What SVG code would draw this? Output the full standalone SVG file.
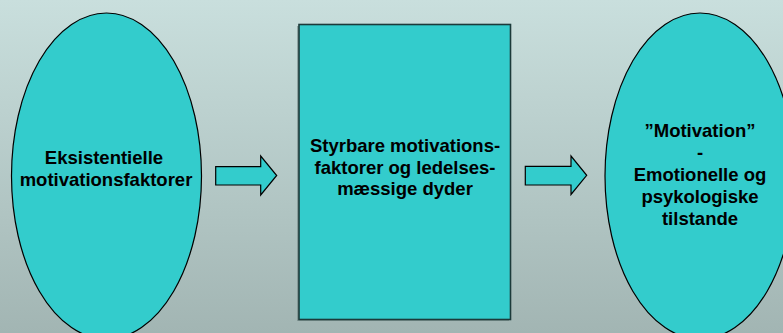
<svg xmlns="http://www.w3.org/2000/svg" width="783" height="333" viewBox="0 0 783 333">
  <defs>
    <linearGradient id="bg" x1="0" y1="0" x2="0" y2="1">
      <stop offset="0" stop-color="#c9dfdd"/>
      <stop offset="1" stop-color="#a2b5b3"/>
    </linearGradient>
  </defs>
  <style>
    .shape { fill: #33cccc; stroke: #000; stroke-width: 1.2; }
    .box { fill: #33cccc; stroke: #1c3a3a; stroke-width: 1.6; }
    .shadow { fill: #6e8280; opacity: 0.6; }
    .lbl { font-family: "Liberation Sans", Arial, sans-serif; font-weight: bold; font-size: 18.5px; fill: #000; text-anchor: middle; }
  </style>
  <rect x="0" y="0" width="783" height="333" fill="url(#bg)"/>

  <g id="node-eksistentielle">
    <ellipse class="shape" cx="106.5" cy="176" rx="95" ry="163"/>
    <text class="lbl" x="104" y="164">Eksistentielle</text>
    <text class="lbl" x="106" y="185.5">motivationsfaktorer</text>
  </g>

  <g id="node-styrbare">
    <rect class="shadow" x="297" y="26" width="212" height="295"/>
    <rect class="box" x="299" y="24.5" width="211.5" height="295"/>
    <text class="lbl" x="405" y="152">Styrbare motivations-</text>
    <text class="lbl" x="405" y="173.5">faktorer og ledelses-</text>
    <text class="lbl" x="405" y="195">mæssige dyder</text>
  </g>

  <g id="node-motivation">
    <ellipse class="shape" cx="700" cy="176" rx="95" ry="163"/>
    <text class="lbl" x="700" y="137">”Motivation”</text>
    <text class="lbl" x="700" y="159">-</text>
    <text class="lbl" x="700" y="181">Emotionelle og</text>
    <text class="lbl" x="700" y="203">psykologiske</text>
    <text class="lbl" x="700" y="225">tilstande</text>
  </g>

  <g id="connectors">
    <polygon class="shape" points="215.7,166.7 260.7,166.7 260.7,156 276.7,175.5 260.7,195 260.7,185 215.7,185"/>
    <polygon class="shape" points="525.3,166.3 571,166.3 571,156 586.7,175.3 571,194.5 571,185 525.3,185"/>
  </g>
</svg>
